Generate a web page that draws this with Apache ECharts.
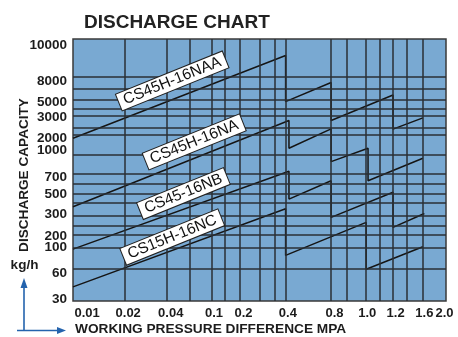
<!DOCTYPE html>
<html>
<head>
<meta charset="utf-8">
<script src="https://cdn.jsdelivr.net/npm/echarts@6/dist/echarts.min.js"></script>
<style>
  html, body { margin: 0; padding: 0; background: #fff; }
  #chart { width: 458px; height: 337px; }
</style>
</head>
<body>
<div id="chart"></div>
<script>
// The chart uses a stylised, non-uniform pressure / capacity scale.
// Both axes run 0-100 "chart units"; each tick label and each rule sits at its own unit.

// Horizontal axis (working pressure difference, MPa)
const xTickLabels = ['0.01', '0.02', '0.04', '0.1', '0.2', '0.4', '0.8', '1.0', '1.2', '1.6', '2.0'];
const xTickAt     = [3.8, 14.8, 26.2, 37.8, 45.7, 57.6, 70.1, 78.9, 86.5, 94.2, 99.6];
const xRules      = [13.8, 25.1, 31.3, 37.1, 40.8, 44.7, 50.0, 54.0, 57.0, 69.2, 73.4, 78.6, 82.2, 85.8, 89.4, 93.7];

// Vertical axis (discharge capacity, kg/h)
const yTickLabels = ['10000', '8000', '5000', '3000', '2000', '1000', '700', '500', '300', '200', '100', '60', '30'];
const yTickAt     = [97.6, 83.8, 75.8, 70.0, 62.1, 57.4, 47.3, 40.7, 33.1, 24.8, 20.4, 10.5, 0.6];
const yRules      = [85.5, 80.9, 76.8, 73.3, 70.7, 66.2, 63.3, 56.0, 48.7, 44.9, 41.1, 37.5, 32.5, 28.8, 25.1, 20.4, 12.4];

// Valve models and their sawtooth discharge curves: [x, y] in chart units
const modelNames = ['CS45H-16NAA', 'CS45H-16NA', 'CS45-16NB', 'CS15H-16NC'];
const curveNAA = [[0, 62.1], [57.0, 93.7], [57.0, 76.1], [69.2, 83.4], [69.2, 68.9], [85.8, 78.6], [85.8, 65.6], [93.8, 69.9]];
const curveNA  = [[0, 36.0], [57.9, 68.9], [57.9, 58.3], [69.2, 65.7], [69.2, 53.2], [79.1, 58.3], [79.1, 45.9], [93.8, 54.5]];
const curveNB  = [[0, 19.8], [57.9, 49.5], [57.9, 38.9], [69.2, 45.9], [69.2, 31.9], [85.8, 41.5], [85.8, 28.1], [94.2, 33.4]];
const curveNC  = [[0, 5.4], [57.0, 35.2], [57.0, 17.4], [78.6, 30.0], [78.6, 12.1], [93.8, 20.7]];
const curves = [curveNAA, curveNA, curveNB, curveNC];

// Where each model name tag sits on its curve
const tagAt = [[26.6, 84.0], [32.5, 60.7], [29.6, 41.0], [26.6, 24.4]];

const FONT = 'Liberation Sans, Arial, sans-serif';
const INK = '#1c1c1c';

function lookup(values, labels) {
  return function (v) {
    for (let i = 0; i < values.length; i++) {
      if (Math.abs(values[i] - v) < 1e-6) return labels[i];
    }
    return '';
  };
}

const chart = echarts.init(document.getElementById('chart'), null, { renderer: 'canvas' });

const ruleStyle = { color: '#2a2f34', width: 1.5, type: 'solid', opacity: 1 };

const series = [
  {
    name: 'rules',
    type: 'line',
    data: [],
    silent: true,
    z: 1,
    markLine: {
      silent: true,
      symbol: ['none', 'none'],
      label: { show: false },
      lineStyle: ruleStyle,
      emphasis: { disabled: true },
      animation: false,
      data: xRules.map(v => ({ xAxis: v })).concat(yRules.map(v => ({ yAxis: v })))
    }
  }
];

curves.forEach((c, i) => {
  series.push({
    name: modelNames[i],
    type: 'line',
    data: c,
    symbol: 'none',
    z: 3,
    lineStyle: { color: '#151515', width: 1.5 },
    silent: true,
    animation: false
  });
});

series.push({
  name: 'tags',
  type: 'scatter',
  z: 5,
  symbolSize: 0,
  silent: true,
  animation: false,
  itemStyle: { opacity: 1 },
  data: tagAt.map((p, i) => ({ value: p, name: modelNames[i] })),
  label: {
    show: true,
    position: 'inside',
    formatter: '{b}',
    rotate: 22,
    align: 'center',
    verticalAlign: 'middle',
    fontFamily: FONT,
    fontSize: 15.5,
    color: '#111',
    backgroundColor: '#ffffff',
    borderColor: '#222',
    borderWidth: 1,
    padding: [1, 5, 0, 5]
  }
});

chart.setOption({
  animation: false,
  backgroundColor: '#ffffff',
  title: {
    text: 'DISCHARGE CHART',
    left: 79,
    top: 8,
    textStyle: { fontFamily: FONT, fontSize: 19, fontWeight: 'bold', color: '#222' }
  },
  grid: {
    left: 73, top: 39, right: 12, bottom: 36,
    show: true,
    backgroundColor: '#79a9d2',
    borderColor: '#3a3a3a',
    borderWidth: 1.5
  },
  xAxis: {
    type: 'value',
    min: 0,
    max: 100,
    axisLine: { show: false },
    axisTick: { show: false },
    splitLine: { show: false },
    axisLabel: {
      customValues: xTickAt,
      formatter: lookup(xTickAt, xTickLabels),
      margin: 6,
      fontFamily: FONT,
      fontSize: 13,
      fontWeight: 'bold',
      color: INK,
      hideOverlap: false
    }
  },
  yAxis: {
    type: 'value',
    min: 0,
    max: 100,
    axisLine: { show: false },
    axisTick: { show: false },
    splitLine: { show: false },
    axisLabel: {
      customValues: yTickAt,
      formatter: lookup(yTickAt, yTickLabels),
      margin: 6,
      fontFamily: FONT,
      fontSize: 13.5,
      fontWeight: 'bold',
      color: INK,
      hideOverlap: false
    }
  },
  graphic: [
    {
      type: 'text',
      left: 75,
      top: 322,
      style: {
        text: 'WORKING PRESSURE DIFFERENCE MPA',
        font: 'bold 13.7px ' + FONT,
        fill: INK
      }
    },
    {
      type: 'text',
      x: 24.5,
      y: 175,
      rotation: Math.PI / 2,
      style: {
        text: 'DISCHARGE CAPACITY',
        font: 'bold 13.6px ' + FONT,
        fill: INK,
        align: 'center',
        verticalAlign: 'middle'
      }
    },
    {
      type: 'text',
      x: 24.5,
      y: 265,
      style: {
        text: 'kg/h',
        font: 'bold 13.5px ' + FONT,
        fill: INK,
        align: 'center',
        verticalAlign: 'middle'
      }
    },
    // axis direction arrows
    {
      type: 'line',
      shape: { x1: 24, y1: 330, x2: 24, y2: 286 },
      style: { stroke: '#2463ad', lineWidth: 1.6 }
    },
    {
      type: 'polygon',
      shape: { points: [[24, 278], [20.5, 288], [27.5, 288]] },
      style: { fill: '#2463ad' }
    },
    {
      type: 'line',
      shape: { x1: 17, y1: 330.5, x2: 58, y2: 330.5 },
      style: { stroke: '#2463ad', lineWidth: 1.6 }
    },
    {
      type: 'polygon',
      shape: { points: [[66, 330.5], [57, 327], [57, 334]] },
      style: { fill: '#2463ad' }
    }
  ],
  series: series
});
</script>
</body>
</html>
